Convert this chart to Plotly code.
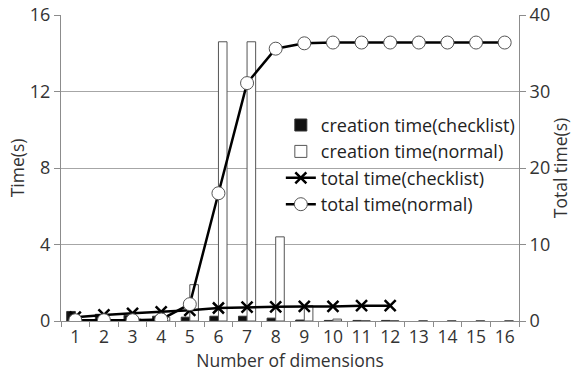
import plotly.graph_objects as go

dims = list(range(1, 17))
creation_checklist = [0.5, 0.35, 0.3, 0.25, 0.2, 0.25, 0.25, 0.15, 0.05, 0.03, 0.03, 0.03, None, None, None, None]
creation_normal = [0.05, 0.05, 0.1, 0.2, 1.9, 14.6, 14.6, 4.4, 0.8, 0.1, 0.02, 0.02, 0.02, 0.02, 0.02, 0.02]
total_checklist = [0.5, 0.8, 1.0, 1.2, 1.4, 1.7, 1.8, 1.85, 1.9, 1.9, 2.0, 2.0, None, None, None, None]
total_normal = [0.1, 0.1, 0.1, 0.2, 2.2, 16.7, 31.1, 35.6, 36.3, 36.4, 36.4, 36.4, 36.4, 36.4, 36.4, 36.4]

FONT = "Open Sans"
GRAY = "#8c8c8c"

fig = go.Figure()
fig.add_trace(go.Bar(x=dims, y=creation_checklist, name="creation time(checklist)",
                     marker=dict(color="#111111", line=dict(color="#333333", width=1))))
fig.add_trace(go.Bar(x=dims, y=creation_normal, name="creation time(normal)",
                     marker=dict(color="white", line=dict(color="#555555", width=1))))
fig.add_trace(go.Scatter(x=dims, y=total_checklist, name="total time(checklist)", yaxis="y2",
                         mode="lines+markers", line=dict(color="black", width=2.5),
                         marker=dict(symbol="x-thin", size=11, line=dict(color="black", width=2.5))))
fig.add_trace(go.Scatter(x=dims, y=total_normal, name="total time(normal)", yaxis="y2",
                         mode="lines+markers", line=dict(color="black", width=2.5),
                         marker=dict(symbol="circle", size=13, color="white",
                                     line=dict(color="#555555", width=1))))

fig.update_layout(
    width=572, height=373,
    margin=dict(l=61, r=53, t=15, b=52, autoexpand=False),
    paper_bgcolor="white", plot_bgcolor="white",
    font=dict(family=FONT, size=17.5, color="#333333"),
    barmode="group", bargap=0.4, bargroupgap=0,
    showlegend=True,
    legend=dict(x=0.48, y=0.70, xanchor="left", yanchor="top", bgcolor="rgba(0,0,0,0)",
                font=dict(size=18, color="#222222"), tracegroupgap=0, itemwidth=30),
    xaxis=dict(range=[0.5, 16.5], tickmode="array", tickvals=dims, ticktext=[str(d) for d in dims],
               ticks="", showline=True, linecolor=GRAY, linewidth=1, showgrid=False, zeroline=False,
               tickfont=dict(size=17.5), automargin=False,
               minor=dict(tickmode="array", tickvals=[d + 0.5 for d in range(0, 17)], ticks="outside",
                          ticklen=5, tickcolor=GRAY, showgrid=False),
               title=dict(text="Number of dimensions", font=dict(size=17.5), standoff=2)),
    yaxis=dict(range=[0, 16], tickvals=[0, 4, 8, 12, 16], ticks="outside", ticklen=6, tickcolor=GRAY,
               showline=True, linecolor=GRAY, showgrid=True, gridcolor="#a6a6a6", zeroline=False,
               tickfont=dict(size=18), automargin=False,
               title=dict(text="Time(s)", font=dict(size=17.5), standoff=0)),
    yaxis2=dict(range=[0, 40], tickvals=[0, 10, 20, 30, 40], overlaying="y", side="right",
                ticks="outside", ticklen=6, tickcolor=GRAY, showline=True, linecolor=GRAY,
                showgrid=False, zeroline=False, tickfont=dict(size=18), automargin=False,
                title=dict(text="Total time(s)", font=dict(size=17.5), standoff=8)),
)

fig.write_html("out.html")
